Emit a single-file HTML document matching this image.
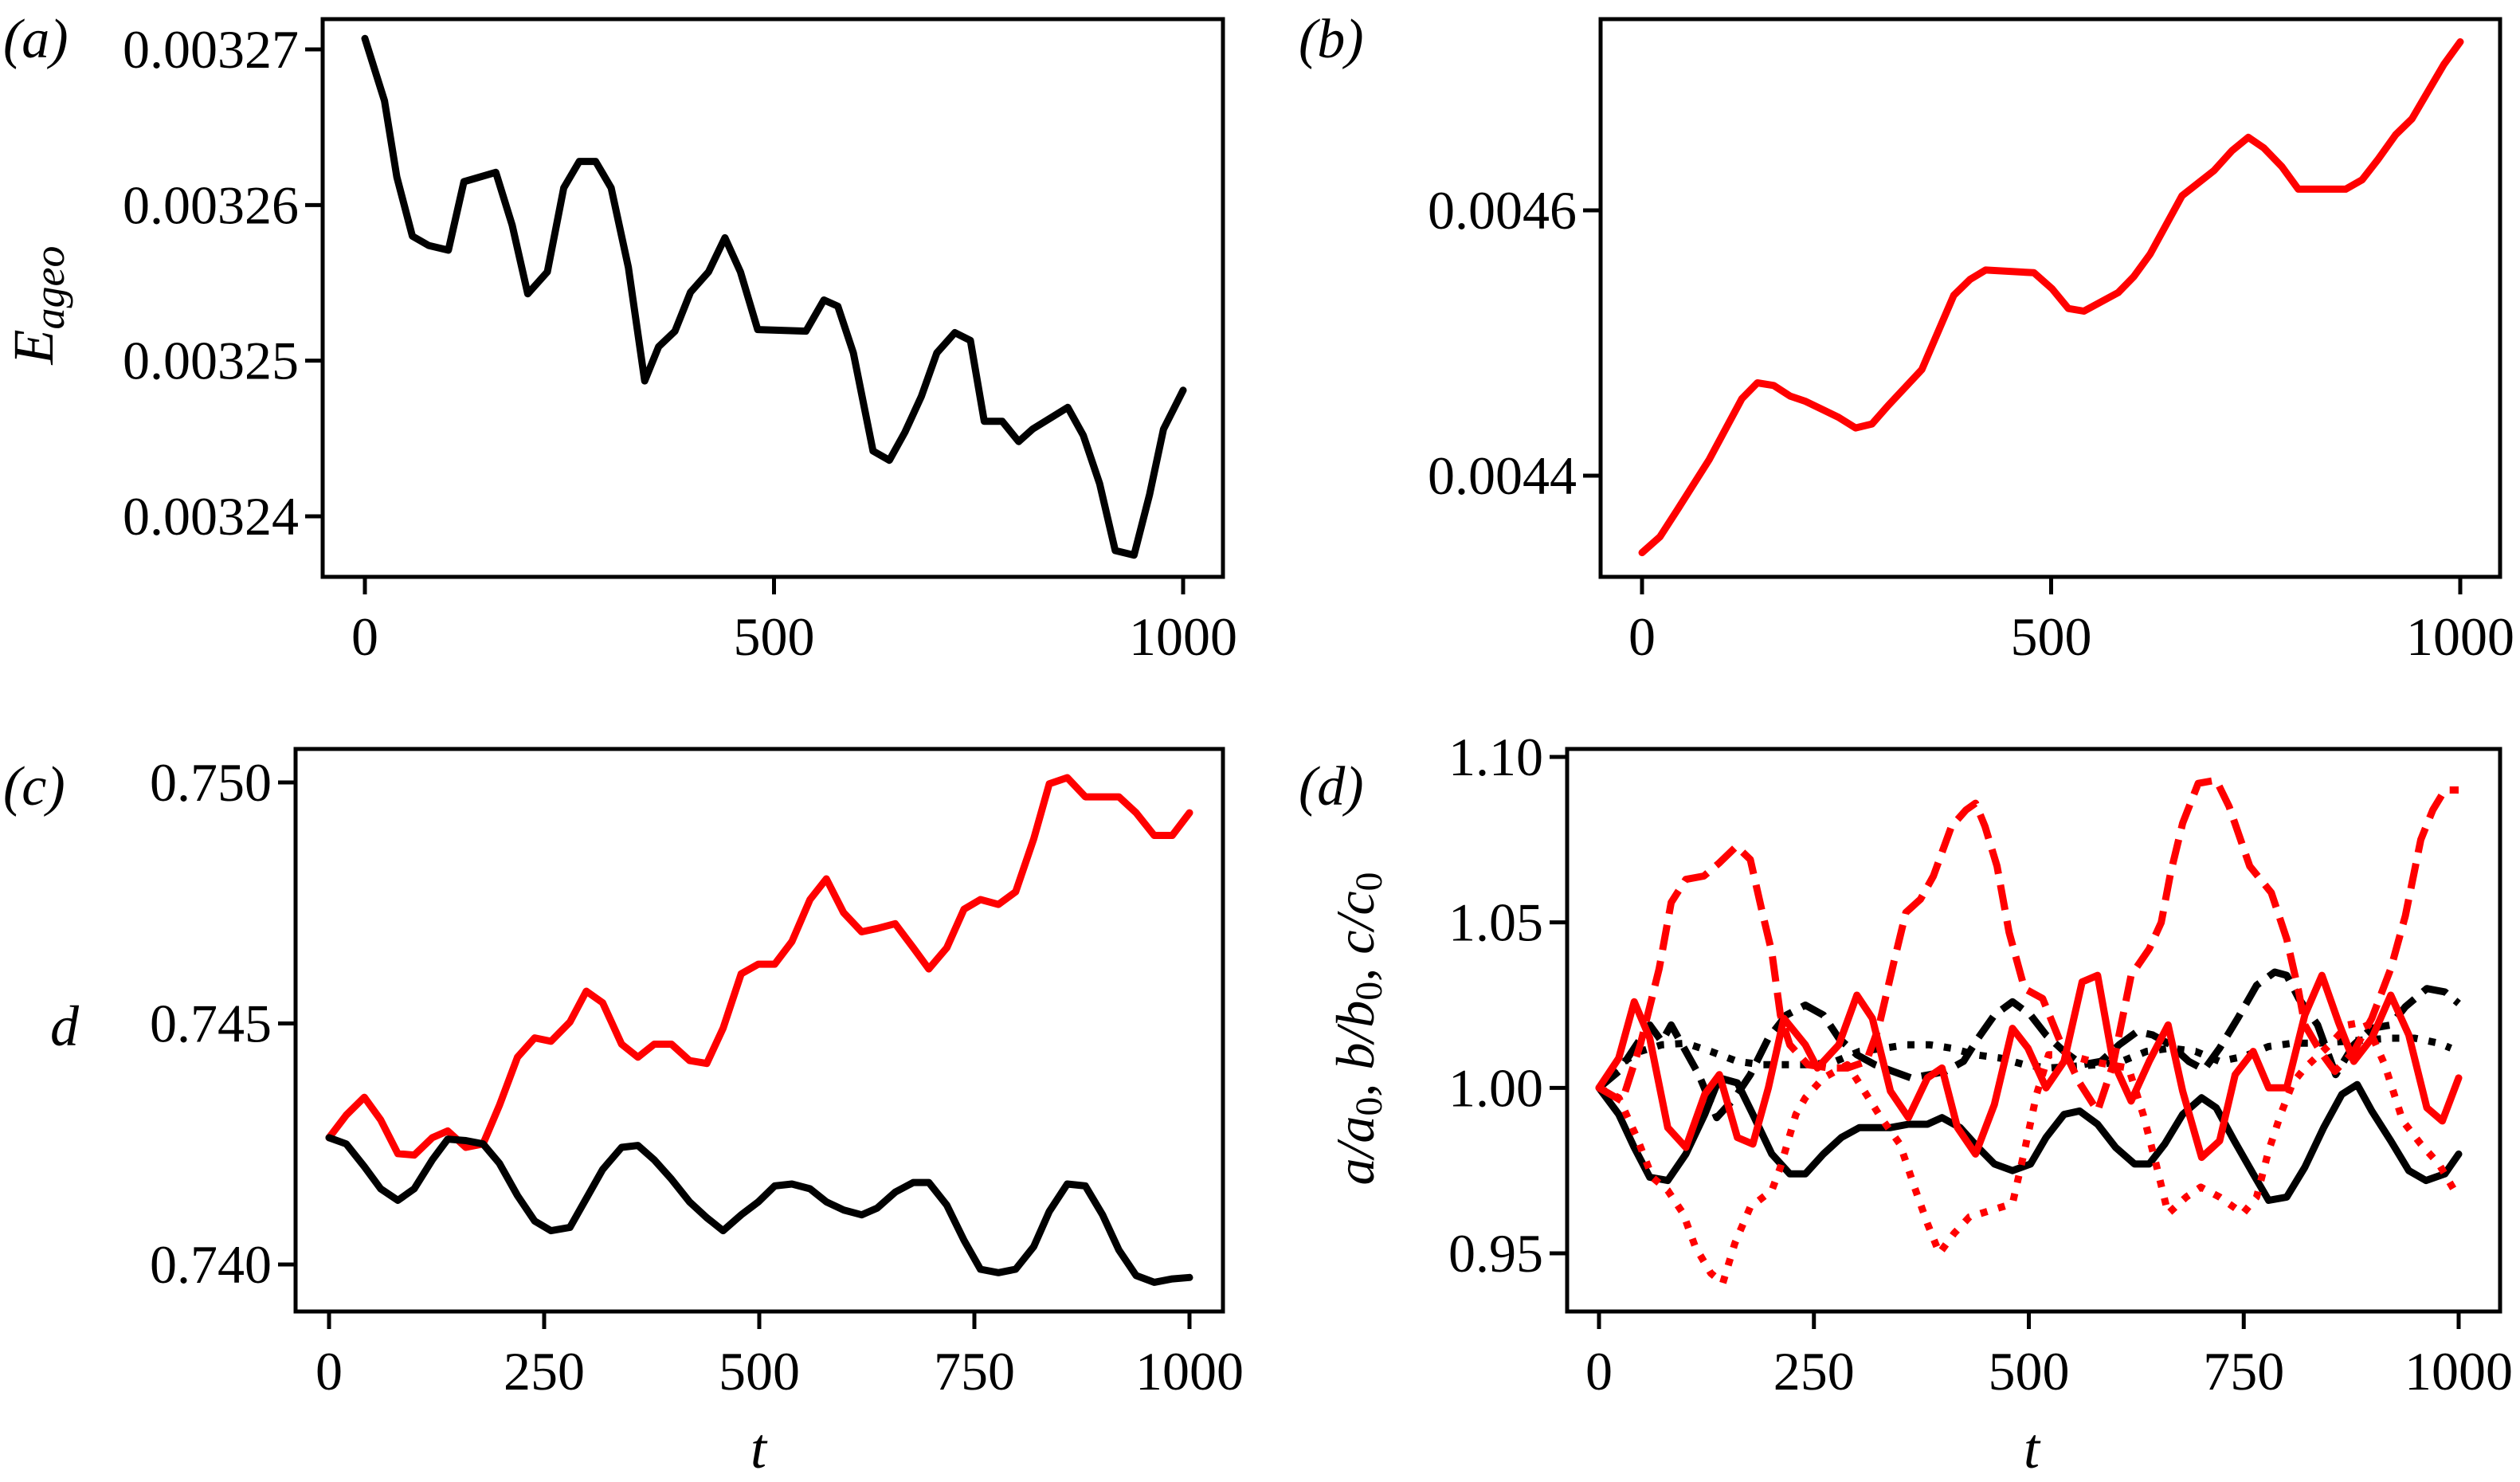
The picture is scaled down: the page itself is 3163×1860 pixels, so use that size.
<!DOCTYPE html>
<html><head><meta charset="utf-8"><style>
html,body{margin:0;padding:0;background:#fff}
svg{display:block;font-family:"Liberation Serif",serif}
</style></head><body>
<svg id="fig" width="3163" height="1860" viewBox="0 0 3163 1860" xmlns="http://www.w3.org/2000/svg">
<rect width="3163" height="1860" fill="#fff"/>
</svg>
<script>
// ---- Panel (a) data ----
const tA=[0,24,39,58,78,102,121,160,180,199,223,243,262,282,301,322,342,359,379,398,420,440,459,480,539,561,578,597,621,641,660,680,699,721,740,757,779,799,816,859,878,898,917,940,959,976,1000];
const vA=[0.0032707,0.0032667,0.0032618,0.003258,0.0032574,0.0032571,0.0032615,0.0032621,0.0032587,0.0032543,0.0032557,0.0032611,0.0032628,0.0032628,0.0032611,0.003256,0.0032487,0.0032509,0.0032519,0.0032544,0.0032557,0.0032579,0.0032557,0.003252,0.0032519,0.0032539,0.0032535,0.0032505,0.0032442,0.0032436,0.0032454,0.0032477,0.0032505,0.0032518,0.0032513,0.0032461,0.0032461,0.0032448,0.0032456,0.003247,0.0032452,0.0032421,0.0032378,0.0032375,0.0032414,0.0032456,0.0032481];
const yTicksA=[0.00324,0.00325,0.00326,0.00327];
const yLabelsA=["0.00324","0.00325","0.00326","0.00327"];
// ---- Panel (b) data ----
const tB=[0,22,45,82,122,141,161,181,200,240,261,281,301,342,381,401,420,479,501,521,540,582,601,621,660,699,721,741,760,782,802,860,880,899,921,941,980,1000];
const vB=[0.004342,0.004354,0.004376,0.004412,0.004458,0.00447,0.004468,0.00446,0.004456,0.004444,0.004436,0.004439,0.004453,0.00448,0.004536,0.004548,0.004555,0.004553,0.004541,0.004526,0.004524,0.004538,0.00455,0.004567,0.004611,0.00463,0.004645,0.004655,0.004647,0.004633,0.004616,0.004616,0.004623,0.004638,0.004657,0.004669,0.00471,0.004727];
const yTicksB=[0.0044,0.0046];
const yLabelsB=["0.0044","0.0046"];
// ---- Panel (c) data ----
const tC=[0,20,41,60,80,99,120,138,159,179,198,219,239,258,280,299,318,340,359,378,398,419,439,458,479,499,518,538,559,578,598,619,637,658,679,697,718,738,757,778,798,819,837,858,879,899,918,938,959,980,1000];
const redC=[0.74263,0.7431,0.74347,0.743,0.7423,0.74227,0.74263,0.74277,0.74243,0.7425,0.7433,0.7443,0.7447,0.74463,0.74503,0.74567,0.74543,0.74457,0.7443,0.74457,0.74457,0.74423,0.74417,0.7449,0.74603,0.74623,0.74623,0.7467,0.74757,0.748,0.7473,0.7469,0.74697,0.74707,0.74657,0.74613,0.74657,0.74737,0.74757,0.74747,0.74773,0.74883,0.74997,0.7501,0.7497,0.7497,0.7497,0.74937,0.7489,0.7489,0.74937];
const blackC=[0.74263,0.7425,0.74203,0.74157,0.74133,0.74157,0.74217,0.7426,0.74257,0.7425,0.7421,0.74143,0.7409,0.7407,0.74077,0.74137,0.74197,0.74243,0.74247,0.74217,0.74177,0.7413,0.74097,0.7407,0.74103,0.7413,0.74163,0.74167,0.74157,0.7413,0.74113,0.74103,0.74117,0.7415,0.7417,0.7417,0.74123,0.7405,0.7399,0.73983,0.7399,0.74037,0.7411,0.74167,0.74163,0.74103,0.7403,0.73977,0.73963,0.7397,0.73973];
const yTicksC=[0.740,0.745,0.750];
const yLabelsC=["0.740","0.745","0.750"];
// ---- Panel (d) data ----
const tRedDash=[0,27,48,70,84,101,122,140,160,176,190,201,211,222,243,268,289,311,325,343,357,374,389,410,427,438,449,463,477,495,516,538,559,580,598,619,640,654,665,679,697,718,733,757,782,800,814,821,839,856,878,899,921,938,956,970,984,1000];
const vRedDash=[1.0,0.996,1.013,1.036,1.056,1.063,1.064,1.068,1.073,1.069,1.053,1.041,1.022,1.013,1.007,1.006,1.006,1.008,1.018,1.038,1.053,1.057,1.064,1.079,1.084,1.086,1.079,1.067,1.047,1.03,1.027,1.013,1.0015,0.993,1.007,1.034,1.042,1.05,1.065,1.08,1.092,1.093,1.085,1.067,1.059,1.045,1.029,1.019,1.011,1.005,1.011,1.021,1.036,1.052,1.075,1.084,1.09,1.09];
const tRedDot=[0,23,44,62,80,98,112,130,144,158,176,201,211,229,240,261,289,311,328,350,367,382,396,413,431,456,481,495,509,523,545,573,594,616,633,648,662,683,700,722,749,765,779,793,807,821,850,871,892,914,935,956,977,995];
const vRedDot=[1.0,0.997,0.985,0.973,0.969,0.962,0.952,0.944,0.941,0.953,0.964,0.969,0.976,0.992,0.997,1.003,1.007,0.998,0.991,0.983,0.97,0.959,0.95,0.956,0.961,0.963,0.965,0.981,0.998,1.01,1.01,1.008,1.007,1.006,0.992,0.977,0.962,0.967,0.97,0.967,0.962,0.967,0.981,0.992,1.0015,1.006,1.013,1.019,1.02,1.007,0.99,0.983,0.977,0.969];
const tRedSolid=[0,23,41,59,80,101,123,140,161,179,197,215,240,254,279,300,318,339,360,382,399,417,438,460,481,499,520,541,562,580,598,619,640,662,679,701,722,740,761,779,800,821,841,860,878,899,921,942,963,981,1000];
const vRedSolid=[1.0,1.009,1.026,1.015,0.988,0.982,0.998,1.004,0.985,0.983,1.0,1.021,1.013,1.006,1.013,1.028,1.021,0.999,0.991,1.003,1.006,0.988,0.98,0.995,1.018,1.012,1.0,1.008,1.032,1.034,1.008,0.996,1.008,1.019,0.999,0.979,0.984,1.004,1.011,1.0,1.0,1.022,1.034,1.02,1.008,1.015,1.028,1.016,0.994,0.99,1.003];
const tBlackSolid=[0,23,41,59,80,101,123,140,161,179,201,222,240,261,282,303,339,360,382,399,420,441,460,481,502,520,541,559,580,601,623,640,658,679,701,718,739,761,779,800,821,843,864,882,899,921,942,962,984,1000];
const vBlackSolid=[1.0,0.992,0.982,0.973,0.972,0.98,0.992,1.003,1.0015,0.992,0.98,0.974,0.974,0.98,0.985,0.988,0.988,0.989,0.989,0.991,0.988,0.982,0.977,0.975,0.977,0.985,0.992,0.993,0.989,0.982,0.977,0.977,0.983,0.992,0.997,0.994,0.984,0.974,0.966,0.967,0.976,0.988,0.998,1.001,0.993,0.984,0.975,0.972,0.974,0.98];
const tBlackDash=[0,23,41,59,73,84,101,116,137,158,176,197,218,240,261,279,300,321,342,363,385,403,424,441,460,481,502,520,541,562,584,605,626,644,665,686,704,722,743,765,786,800,814,836,857,878,899,921,938,963,984,1000];
const vBlackDash=[1.0,1.005,1.012,1.019,1.014,1.019,1.011,1.004,0.991,0.997,1.004,1.015,1.022,1.025,1.022,1.015,1.01,1.007,1.005,1.003,1.004,1.005,1.008,1.015,1.022,1.026,1.022,1.016,1.011,1.007,1.008,1.013,1.017,1.016,1.013,1.008,1.0055,1.012,1.021,1.031,1.035,1.034,1.027,1.019,1.004,1.013,1.018,1.019,1.0245,1.03,1.029,1.0255];
const tBlackDot=[0,23,48,73,101,130,161,190,218,247,275,303,332,357,385,410,438,467,495,523,552,580,608,637,665,694,722,750,779,807,835,864,892,921,949,977,991];
const vBlackDot=[1.0,1.007,1.011,1.013,1.0135,1.011,1.008,1.007,1.007,1.007,1.008,1.011,1.012,1.013,1.013,1.012,1.01,1.009,1.007,1.006,1.0065,1.007,1.008,1.011,1.012,1.011,1.008,1.0095,1.0125,1.0135,1.0135,1.014,1.0145,1.015,1.015,1.0135,1.012];
const yTicksD=[0.95,1.00,1.05,1.10];
const yLabelsD=["0.95","1.00","1.05","1.10"];
const xTicksAB=[0,500,1000];
const xTicksCD=[0,250,500,750,1000];

const NS="http://www.w3.org/2000/svg";
const svg=document.getElementById('fig');
function mk(tag,attrs,parent){const e=document.createElementNS(NS,tag);for(const k in attrs)e.setAttribute(k,attrs[k]);(parent||svg).appendChild(e);return e;}
function scale(d0,d1,r0,r1){return v=>r0+(v-d0)*(r1-r0)/(d1-d0);}

function panel(name,box,xs,ys,xTicks,yTicks,yLabels){
  const g=mk('g',{});
  
  
  const plot=mk('g',{},g);
  
  
  const frame=mk('rect',{x:box.l,y:box.t,width:box.r-box.l,height:box.b-box.t,fill:'none',stroke:'#000','stroke-width':5},g);
  
  
  xTicks.forEach(v=>{
    const x=xs(v);
    const tk=mk('line',{x1:x,x2:x,y1:box.b,y2:box.b+22,stroke:'#000','stroke-width':5},g);
    
    
    const tl=mk('text',{x:x,y:box.b+98,'text-anchor':'middle','font-size':68},g);
    
    
    tl.textContent=String(v);
  });
  yTicks.forEach((v,i)=>{
    const y=ys(v);
    const tk=mk('line',{x1:box.l-22,x2:box.l,y1:y,y2:y,stroke:'#000','stroke-width':5},g);
    
    
    const tl=mk('text',{x:box.l-30,y:y+23,'text-anchor':'end','font-size':68},g);
    
    
    tl.textContent=yLabels[i];
  });
  return plot;
}
function series(parent,name,ts,vs,xs,ys,color,dash){
  const d=ts.map((t,i)=>(i?'L':'M')+xs(t).toFixed(1)+','+ys(vs[i]).toFixed(1)).join(' ');
  const p=mk('path',{d:d,fill:'none',stroke:color,'stroke-width':9,'stroke-linejoin':'round','stroke-linecap':dash?'butt':'round'},parent);
  if(dash)p.setAttribute('stroke-dasharray',dash);
  
  
}
function text(str,attrs,name){const t=mk('text',attrs);t.textContent=str;return t;}

// (a)
const boxA={l:405,r:1535,t:24,b:724};
const xsA=scale(0,1000,458,1485), ysA=scale(0.00327,0.00324,62,648);
const pA=panel('panel-a',boxA,xsA,ysA,xTicksAB,yTicksA,yLabelsA);
series(pA,'e-ageo-line-black',tA,vA,xsA,ysA,'#000',null);
// (b)
const boxB={l:2009,r:3138,t:24,b:724};
const xsB=scale(0,1000,2061,3088), ysB=scale(0.0046,0.0044,264,597);
const pB=panel('panel-b',boxB,xsB,ysB,xTicksAB,yTicksB,yLabelsB);
series(pB,'e-ageo-line-red',tB,vB,xsB,ysB,'#f00',null);
// (c)
const boxC={l:371,r:1535,t:940,b:1646};
const xsC=scale(0,1000,413,1493), ysC=scale(0.750,0.740,982,1587);
const pC=panel('panel-c',boxC,xsC,ysC,xTicksCD,yTicksC,yLabelsC);
series(pC,'d-line-red',tC,redC,xsC,ysC,'#f00',null);
series(pC,'d-line-black',tC,blackC,xsC,ysC,'#000',null);
// (d)
const boxD={l:1967,r:3138,t:940,b:1646};
const xsD=scale(0,1000,2007,3086), ysD=scale(1.10,0.95,950,1573);
const pD=panel('panel-d',boxD,xsD,ysD,xTicksCD,yTicksD,yLabelsD);
series(pD,'black-dotted-line',tBlackDot,vBlackDot,xsD,ysD,'#000','9 14');
series(pD,'black-dashed-line',tBlackDash,vBlackDash,xsD,ysD,'#000','32 14');
series(pD,'black-solid-line',tBlackSolid,vBlackSolid,xsD,ysD,'#000',null);
series(pD,'red-dotted-line',tRedDot,vRedDot,xsD,ysD,'#f00','9 14');
series(pD,'red-dashed-line',tRedDash,vRedDash,xsD,ysD,'#f00','32 14');
series(pD,'red-solid-line',tRedSolid,vRedSolid,xsD,ysD,'#f00',null);

// labels
text('(a)',{x:4,y:72,'font-size':70,'font-style':'italic'},'panel-label-a');
text('(b)',{x:1630,y:72,'font-size':70,'font-style':'italic'},'panel-label-b');
text('(c)',{x:4,y:1010,'font-size':70,'font-style':'italic'},'panel-label-c');
text('(d)',{x:1630,y:1010,'font-size':70,'font-style':'italic'},'panel-label-d');
const ya=text('',{transform:'translate(66,383) rotate(-90)','text-anchor':'middle','font-size':72,'font-style':'italic'},'y-axis-title-a');
ya.innerHTML='E<tspan font-size="54" dy="14">ageo</tspan>';
text('d',{x:81,y:1312,'font-size':72,'font-style':'italic','text-anchor':'middle'},'y-axis-title-c');
text('t',{x:952,y:1842,'font-size':72,'font-style':'italic','text-anchor':'middle'},'x-axis-title-c');
text('t',{x:2550,y:1842,'font-size':72,'font-style':'italic','text-anchor':'middle'},'x-axis-title-d');
const yd=text('',{transform:'translate(1724,1291) rotate(-90)','text-anchor':'middle','font-size':68,'font-style':'italic'},'y-axis-title-d');
yd.innerHTML='a/a<tspan font-style="normal" font-size="48" dy="10">0</tspan><tspan dy="-10">, b/b</tspan><tspan font-style="normal" font-size="48" dy="10">0</tspan><tspan dy="-10">, c/c</tspan><tspan font-style="normal" font-size="48" dy="10">0</tspan>';
</script>
</body></html>
